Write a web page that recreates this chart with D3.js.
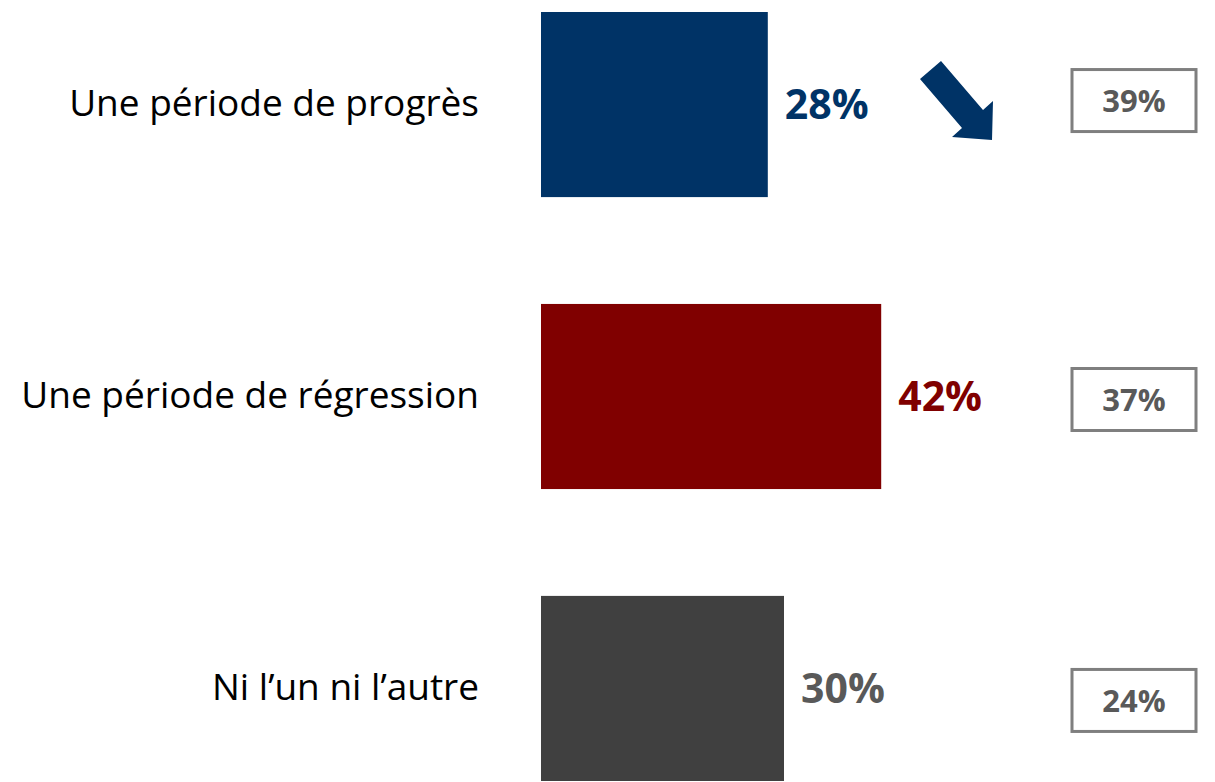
<!DOCTYPE html>
<html>
<head>
<meta charset="utf-8">
<script src="https://cdn.jsdelivr.net/npm/d3@7"></script>
<style>
  html, body { margin: 0; padding: 0; background: #fff; }
  svg { display: block; }
</style>
</head>
<body>
<div id="root"><svg width="1215" height="782"></svg></div>
<script>
const categories = ['Une période de progrès', 'Une période de régression', 'Ni l’un ni l’autre'];
const values = [28, 42, 30];
const previousValues = [39, 37, 24];
const barColors = ['#003366', '#800000', '#404040'];
const labelColors = ['#003366', '#800000', '#595959'];

function drawChart() {
  const svg = d3.select('#root svg');

  const xScale = d3.scaleLinear().domain([0, 100]).range([541, 1351]);
  const yScale = d3.scaleBand()
    .domain(categories)
    .range([12, 781])
    .paddingInner(0.366)
    .paddingOuter(0);

  // small vertical nudges for the comparison boxes
  const boxShift = [-4, 3, 12];

  const rows = svg.selectAll('g.row')
    .data(categories.map((c, i) => ({ cat: c, v: values[i], prev: previousValues[i], i: i })))
    .enter()
    .append('g')
    .attr('class', 'row');

  rows.append('rect')
    .attr('x', xScale(0))
    .attr('y', (d) => yScale(d.cat))
    .attr('width', (d) => xScale(d.v) - xScale(0))
    .attr('height', yScale.bandwidth())
    .attr('fill', (d) => barColors[d.i]);

  rows.append('text')
    .attr('x', 479)
    .attr('y', (d) => yScale(d.cat) + yScale.bandwidth() / 2)
    .attr('dy', '0.32em')
    .attr('text-anchor', 'end')
    .attr('font-family', '"Open Sans", sans-serif')
    .attr('font-size', '37px')
    .attr('fill', '#000')
    .text((d) => d.cat);

  rows.append('text')
    .attr('x', (d) => xScale(d.v) + 17)
    .attr('y', (d) => yScale(d.cat) + yScale.bandwidth() / 2)
    .attr('dy', '0.36em')
    .attr('font-family', '"Open Sans", sans-serif')
    .attr('font-weight', 'bold')
    .attr('font-size', '41px')
    .attr('fill', (d) => labelColors[d.i])
    .text((d) => d.v + '%');

  const boxW = 124;
  const boxH = 62;
  const boxX = 1072;

  rows.append('rect')
    .attr('x', boxX)
    .attr('y', (d) => yScale(d.cat) + yScale.bandwidth() / 2 + boxShift[d.i] - boxH / 2)
    .attr('width', boxW)
    .attr('height', boxH)
    .attr('fill', '#fff')
    .attr('stroke', '#7f7f7f')
    .attr('stroke-width', 3);

  rows.append('text')
    .attr('x', boxX + boxW / 2)
    .attr('y', (d) => yScale(d.cat) + yScale.bandwidth() / 2 + boxShift[d.i])
    .attr('dy', '0.36em')
    .attr('text-anchor', 'middle')
    .attr('font-family', '"Open Sans", sans-serif')
    .attr('font-weight', 'bold')
    .attr('font-size', '31px')
    .attr('fill', '#595959')
    .text((d) => d.prev + '%');

  // trend arrow (down) next to the first bar
  svg.append('polygon')
    .attr('points', '920,79 941,61 983,110 993,101 992,140 952,137 962,128')
    .attr('fill', '#003366');
}

drawChart();
</script>
</body>
</html>
